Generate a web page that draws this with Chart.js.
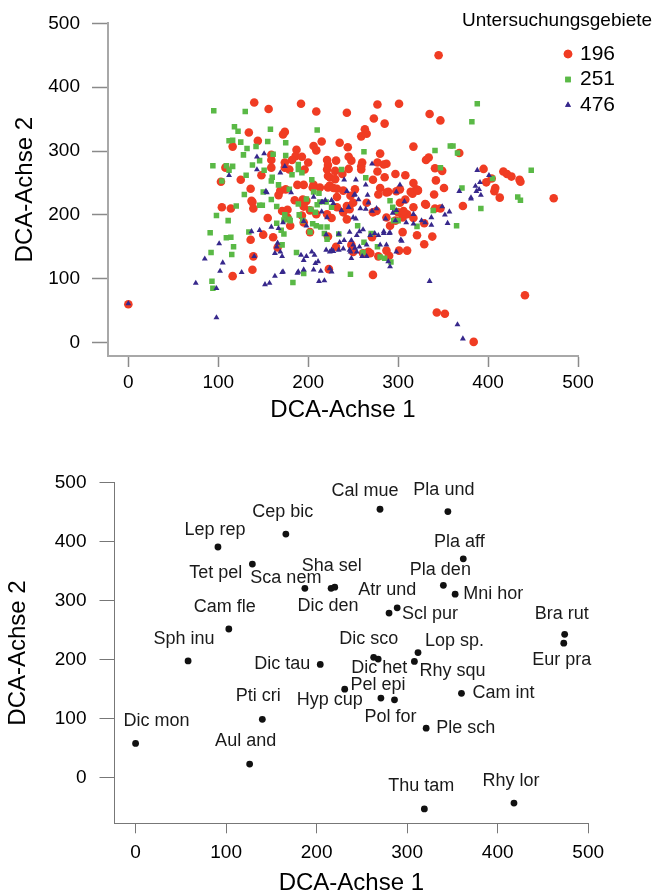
<!DOCTYPE html>
<html>
<head>
<meta charset="utf-8">
<script src="https://cdn.jsdelivr.net/npm/chart.js@4"></script>
<style>
  body { margin: 0; background: #fff; }
  canvas { position: absolute; left: 0; }
  #dcaSites { top: 0; }
  #dcaSpecies { top: 440px; }
</style>
</head>
<body>
<canvas id="dcaSites" width="660" height="440"></canvas>
<canvas id="dcaSpecies" width="660" height="455"></canvas>
<script>
// DCA scores of the plots, one list per study area
const area196 = [
    [140,376],[192,374],[156,366],[209,362],[134,329],[174,330],[172,326],[144,316],[215,315],[206,308],
    [116,307],[209,301],[187,302],[186,292],[193,291],[159,294],[159,286],[200,282],[221,286],[108,274],
    [159,274],[174,274],[179,271],[196,271],[221,271],[148,262],[125,255],[103,252],[195,247],[206,247],
    [213,243],[136,241],[167,231],[175,240],[222,261],[222,243],[138,220],[194,224],
    [345,450],[277,373],[301,374],[243,360],[335,358],[347,348],[273,351],[285,343],[263,334],[259,323],
    [265,327],[235,313],[244,306],[317,307],[280,296],[368,297],[331,286],[334,290],[245,291],[248,285],
    [231,285],[260,282],[222,278],[245,272],[259,276],[277,282],[287,280],[341,273],[349,269],[417,268],
    [421,264],[426,260],[435,255],[436,252],[230,269],[238,264],[259,271],[277,268],[224,259],[230,256],
    [272,255],[285,259],[297,264],[308,262],[317,250],[342,254],[408,242],[413,227],[473,226],[205,243],
    [224,246],[232,241],[239,238],[280,242],[289,236],[302,240],[314,236],[320,240],[340,232],[351,242],
    [247,230],[232,228],[395,272],[404,257],[398,251],[372,214],[331,216],[298,237],[316,233],[322,238],
    [284,279],[302,219],[308,224],[317,212],[300,204],[305,196],[310,201],[317,195],[330,217],[341,210],
    [347,210],[104,212],[114,210],[137,222],[139,210],[155,195],[177,208],[185,223],[180,183],[198,222],
    [195,213],[202,207],[202,173],[136,161],[150,169],[161,165],[139,135],[138,114],[116,104],[166,149],
    [222,166],[231,150],[223,115],[272,106],[0,60],[171,206],[177,196],[226,195],[239,204],[243,193],
    [232,212],[243,214],[250,219],[228,242],[252,240],[265,219],[272,204],[248,153],[250,142],[267,142],
    [271,165],[407,237],[322,239],[306,206],[329,187],[321,168],[338,166],[329,154],[305,173],[310,144],
    [301,144],[290,136],[278,135],[269,140],[261,140],[287,144],[441,74],[343,47],[352,45],[384,1],
    [221,201],[209,201],[246,209],[276,206],[287,196],[297,191],[291,183],[195,188],[193,199],[278,232],
    [287,235],[182,286],[174,282],[188,247],[169,238]
];
const area251 = [
    [95,363],[130,362],[118,338],[122,331],[158,334],[210,333],[112,316],[116,317],[125,314],[155,315],
    [175,313],[132,304],[142,307],[128,294],[161,295],[175,293],[94,277],[109,277],[116,276],[112,270],
    [146,285],[138,278],[151,270],[189,279],[189,271],[193,266],[182,263],[204,255],[131,262],[104,253],
    [160,259],[159,253],[167,247],[129,232],[150,236],[159,224],[179,240],[206,236],[212,234],
    [388,374],[382,346],[262,299],[341,301],[358,308],[361,308],[366,297],[347,274],[237,271],[371,242],
    [405,257],[448,270],[433,228],[436,223],[264,258],[291,222],[392,210],[365,183],[339,207],[300,191],
    [321,182],[146,215],[149,215],[165,213],[120,214],[98,199],[111,191],[91,172],[109,164],[114,165],
    [117,150],[115,138],[92,141],[93,96],[94,85],[134,173],[170,176],[173,170],[171,153],[187,141],
    [195,108],[183,94],[173,192],[179,193],[190,200],[198,225],[213,220],[210,216],[205,186],[214,181],
    [221,181],[234,170],[221,162],[255,183],[262,157],[247,107],[226,212],[174,200],[165,187],[180,191],
    [194,191],[189,217],[203,209],[208,204],[209,183],[202,173],[218,171],[220,220],[270,171],[277,150],
    [261,141],[294,212],[297,206],[295,191],[280,134],[285,132],[292,126]
];
const area476 = [
    [151,296],[143,291],[112,262],[143,271],[174,276],[169,266],[153,237],[181,235],[206,228],
    [271,280],[240,255],[253,255],[264,247],[243,237],[251,231],[266,231],[298,236],[302,247],[388,270],
    [401,262],[386,245],[391,251],[368,237],[381,227],[387,237],[392,231],[390,240],[381,225],[349,213],
    [357,205],[352,200],[337,196],[337,184],[355,187],[326,191],[330,188],[317,201],[317,186],[309,188],
    [297,191],[286,194],[307,221],[298,207],[294,203],[335,96],[366,28],[372,6],[291,172],[284,174],
    [303,161],[289,127],[291,119],[280,153],[239,147],[247,142],[228,143],[220,145],[207,137],[198,135],
    [195,114],[206,114],[214,112],[212,96],[218,97],[224,116],[215,220],[219,223],[226,223],[228,218],
    [237,207],[245,212],[250,196],[253,194],[258,210],[264,209],[267,219],[271,206],[276,210],[256,224],
    [252,232],[172,188],[167,179],[159,181],[195,190],[198,183],[215,205],[221,196],[220,169],[234,170],
    [235,157],[240,160],[246,173],[248,160],[254,168],[257,174],[261,177],[250,153],[246,145],[252,148],
    [254,142],[257,150],[265,153],[269,168],[278,168],[274,171],[284,171],[287,153],[290,171],[298,142],
    [304,159],[165,150],[169,142],[171,135],[163,140],[192,137],[195,129],[204,142],[208,124],[211,127],
    [189,111],[188,109],[224,142],[226,145],[226,111],[248,132],[260,135],[265,135],[163,104],[171,110],
    [137,174],[146,176],[101,155],[166,156],[140,135],[85,131],[105,125],[102,112],[126,110],[75,93],
    [98,85],[152,91],[157,93],[154,235],[216,220],[98,39],[172,111],[234,145],[0,61]
];
const areaNames = ['196', '251', '476'];
const legendTitle = 'Untersuchungsgebiete';

// DCA scores of the species
const speciesNames = ['Lep rep', 'Cep bic', 'Tet pel', 'Sca nem', 'Dic den', 'Sha sel', 'Cam fle', 'Sph inu',
    'Dic tau', 'Cal mue', 'Pla und', 'Pla aff', 'Pla den', 'Mni hor', 'Atr und', 'Scl pur',
    'Bra rut', 'Eur pra', 'Dic sco', 'Dic het', 'Lop sp.', 'Rhy squ', 'Hyp cup', 'Pel epi',
    'Pol for', 'Cam int', 'Pti cri', 'Dic mon', 'Aul and', 'Ple sch', 'Thu tam', 'Rhy lor'];
const speciesAxis1 = [91, 166, 129, 187, 216, 220, 103, 58,
    204, 270, 345, 362, 340, 353, 289, 280,
    474, 473, 263, 268, 312, 308, 231, 271,
    286, 360, 140, 0, 126, 321, 319, 418];
const speciesAxis2 = [391, 413, 362, 321, 321, 323, 252, 198,
    192, 455, 451, 371, 326, 311, 288, 279,
    243, 228, 204, 201, 212, 197, 150, 135,
    132, 143, 99, 58, 23, 84, -53, -43];

const axisTicks = [0, 100, 200, 300, 400, 500];

// label placement next to each species point: [dx, dy, align]
const labelPlacement = [[-3,-17,'c'], [-3,-22,'c'], [-10,9,'r'], [-19,-10,'c'], [-3,18,'c'], [-3,-21,'c'], [-4,-22,'c'], [-4,-22,'c'],
    [-10,0,'r'], [-15,-18,'c'], [-4,-22,'c'], [-4,-17,'c'], [-3,-15,'c'], [8,0,'l'], [-10,-18,'c'], [13,1,'l'],
    [-3,-20,'c'], [-2,17,'c'], [-5,-18,'c'], [1,9,'c'], [7,-12,'l'], [5,10,'l'], [-15,11,'c'], [-3,-13,'c'],
    [-4,17,'c'], [11,0,'l'], [-4,-23,'c'], [21,-22,'c'], [-4,-23,'c'], [10,0,'l'], [-3,-23,'c'], [-3,-22,'c']];

const fontFamily = "'Liberation Sans', Arial, Helvetica, sans-serif";
const areaColors = ['#f03c23', '#5ab946', '#37288c'];

/**
 * Builds an R-like axis: line, outward ticks, labels, title.
 */
function makeScale(min, max, title, o) {
    return {
        type: 'linear',
        position: o.position,
        min: min,
        max: max,
        afterBuildTicks: function (axis) {
            axis.ticks = axisTicks.map(v => ({ value: v }));
        },
        afterFit: function (axis) {
            if (o.position === 'left')
                axis.width = o.size;
            else
                axis.height = o.size;
        },
        grid: {
            drawOnChartArea: false,
            drawTicks: true,
            tickLength: o.tickLength,
            tickColor: o.tickColor,
            tickWidth: o.tickWidth,
            color: o.tickColor
        },
        border: {
            display: true,
            color: o.lineColor,
            width: o.lineWidth
        },
        ticks: {
            color: '#000',
            padding: o.padding,
            autoSkip: false,
            maxRotation: 0,
            font: { family: fontFamily, size: 19 }
        },
        title: {
            display: true,
            text: title,
            color: '#000',
            padding: o.titlePadding,
            font: { family: fontFamily, size: 24, lineHeight: 1 }
        }
    };
}

const siteLegend = {
    id: 'siteLegend',
    afterDatasetsDraw(chart) {
        const ctx = chart.ctx;
        ctx.save();
        ctx.fillStyle = '#000';
        ctx.textBaseline = 'middle';
        ctx.textAlign = 'left';
        ctx.font = '19px ' + fontFamily;
        ctx.fillText(legendTitle, 462, 21);
        ctx.font = '21px ' + fontFamily;
        chart.data.datasets.forEach((ds, i) => {
            let y = 54 + i * 25.5;
            ctx.fillStyle = ds.backgroundColor;
            Chart.helpers.drawPoint(ctx, { pointStyle: ds.pointStyle, radius: ds.pointRadius, borderWidth: 0 }, 568, y);
            ctx.fill();
            ctx.fillStyle = '#000';
            ctx.fillText(areaNames[i], 580, y);
        });
        ctx.restore();
    }
};

const speciesLabels = {
    id: 'speciesLabels',
    afterDatasetsDraw(chart) {
        const ctx = chart.ctx;
        const xs = chart.scales.x;
        const ys = chart.scales.y;
        ctx.save();
        ctx.fillStyle = '#1a1a1a';
        ctx.font = '18px ' + fontFamily;
        ctx.textBaseline = 'middle';
        speciesNames.forEach((name, i) => {
            let p = labelPlacement[i];
            ctx.textAlign = p[2] === 'l' ? 'left' : (p[2] === 'r' ? 'right' : 'center');
            ctx.fillText(name, xs.getPixelForValue(speciesAxis1[i]) + p[0], ys.getPixelForValue(speciesAxis2[i]) + p[1]);
        });
        ctx.restore();
    }
};

const toPoints = list => list.map(p => ({ x: p[0], y: p[1] }));

new Chart(document.getElementById('dcaSites'), {
    type: 'scatter',
    data: {
        datasets: [
            { label: areaNames[0], data: toPoints(area196), backgroundColor: areaColors[0], pointStyle: 'circle', pointRadius: 4.3, order: 3 },
            { label: areaNames[1], data: toPoints(area251), backgroundColor: areaColors[1], pointStyle: 'rect', pointRadius: 3.9, order: 2 },
            { label: areaNames[2], data: toPoints(area476), backgroundColor: areaColors[2], pointStyle: 'triangle', pointRadius: 3.4, order: 1 }
        ]
    },
    options: {
        responsive: false,
        animation: false,
        devicePixelRatio: 1,
        layout: { padding: { top: 18, right: 82, left: 0, bottom: 0 } },
        datasets: { scatter: { borderWidth: 0, pointHoverRadius: 4 } },
        plugins: { legend: { display: false }, tooltip: { enabled: false } },
        scales: {
            x: makeScale(-22.6, 500, 'DCA-Achse 1', {
                position: 'bottom', size: 84, tickLength: 11, padding: 4,
                tickColor: '#8a8a8a', tickWidth: 1.5, lineColor: '#a8a8a8', lineWidth: 2,
                titlePadding: { top: 0, bottom: 18 }
            }),
            y: makeScale(-21.1, 500, 'DCA-Achse 2', {
                position: 'left', size: 108, tickLength: 16, padding: 12,
                tickColor: '#8a8a8a', tickWidth: 1.5, lineColor: '#a8a8a8', lineWidth: 2,
                titlePadding: { top: 13, bottom: 0 }
            })
        }
    },
    plugins: [siteLegend]
});

new Chart(document.getElementById('dcaSpecies'), {
    type: 'scatter',
    data: {
        datasets: [{
            label: 'Arten',
            data: speciesAxis1.map((v, i) => ({ x: v, y: speciesAxis2[i] })),
            backgroundColor: '#111',
            pointStyle: 'circle',
            pointRadius: 3.4,
            borderWidth: 0
        }]
    },
    options: {
        responsive: false,
        animation: false,
        devicePixelRatio: 1,
        layout: { padding: { top: 42.7, right: 71.8, left: 0, bottom: 0 } },
        plugins: { legend: { display: false }, tooltip: { enabled: false } },
        scales: {
            x: makeScale(-23.3, 500, 'DCA-Achse 1', {
                position: 'bottom', size: 71.7, tickLength: 10, padding: 8,
                tickColor: '#777', tickWidth: 1, lineColor: '#777', lineWidth: 1,
                titlePadding: { top: 0, bottom: 0 }
            }),
            y: makeScale(-77.3, 500, 'DCA-Achse 2', {
                position: 'left', size: 114.5, tickLength: 15, padding: 13,
                tickColor: '#777', tickWidth: 1, lineColor: '#777', lineWidth: 1,
                titlePadding: { top: 6, bottom: 0 }
            })
        }
    },
    plugins: [speciesLabels]
});
</script>
</body>
</html>
